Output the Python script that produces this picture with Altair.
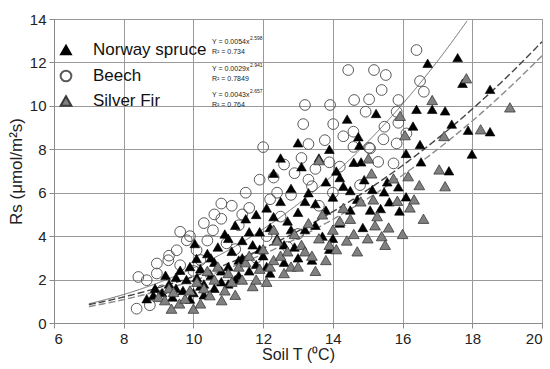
import altair as alt
import pandas as pd

# ---- measured soil respiration (Rs) against soil temperature ----
spruce_t = [8.66, 8.85, 8.9, 9.1, 9.2, 9.3, 9.4, 9.5, 9.5, 9.62, 9.7, 9.8, 9.9, 9.9, 10.0, 10.04,
            10.09, 10.1, 10.2, 10.2, 10.3, 10.3, 10.4, 10.5, 10.5, 10.6, 10.6, 10.7, 10.8, 10.8,
            10.9, 11.0, 11.0, 11.0, 11.1, 11.2, 11.2, 11.3, 11.3, 11.4, 11.4, 11.5, 11.6, 11.6,
            11.7, 11.8, 11.8, 11.9, 11.9, 12.0, 12.1, 12.1, 12.2, 12.2, 12.3, 12.3, 12.4, 12.5,
            12.5, 12.6, 12.6, 12.7, 12.8, 12.8, 12.9, 13.0, 13.0, 13.0, 13.1, 13.2, 13.2, 13.3,
            13.4, 13.5, 13.5, 13.6, 13.7, 13.8, 13.8, 13.9, 13.9, 14.0, 14.0, 14.1, 14.2, 14.2,
            14.3, 14.41, 14.5, 14.5, 14.6, 14.7, 14.73, 14.76, 14.81, 14.86, 14.9,
            15.07, 15.13, 15.24, 15.37, 15.47, 15.56, 15.62, 15.88, 15.91, 16.10, 16.10, 16.30,
            16.40, 16.50, 16.53, 16.72, 16.85, 17.22, 17.33, 17.41, 17.58, 17.72, 17.88, 17.99,
            18.51, 18.51]
spruce_rs = [1.12, 1.28, 1.6, 1.4, 2.2, 1.8, 1.2, 2.1, 1.6, 2.43, 1.5, 2.0, 1.1, 2.6, 1.4, 3.66,
             2.97, 2.1, 2.5, 1.7, 1.8, 1.3, 3.2, 2.2, 3.0, 2.8, 1.6, 3.5, 1.9, 2.4,
             4.1, 2.6, 1.8, 3.9, 3.3, 4.5, 2.0, 2.9, 2.2, 3.8, 3.0, 4.8, 2.4, 4.2,
             3.6, 5.0, 2.7, 4.2, 3.4, 3.1, 5.3, 2.6, 4.4, 2.3, 6.9, 4.9, 3.9, 5.6,
             7.6, 2.8, 3.6, 4.7, 6.2, 4.3, 3.5, 5.1, 8.3, 3.0, 7.2, 4.3, 5.6, 6.0,
             2.9, 5.5, 4.5, 7.6, 4.0, 6.5, 5.2, 3.4, 8.0, 5.8, 3.9, 7.0, 4.6, 6.7,
             6.3, 9.39, 5.2, 6.1, 7.4, 5.7, 8.58, 8.19, 7.42, 4.40, 6.6,
             5.20, 6.15, 9.65, 5.27, 6.04, 6.50, 5.58, 6.27, 5.16, 7.81, 5.81, 9.07,
             9.84, 8.22, 7.42, 11.96, 9.84, 9.77, 7.01, 9.16, 12.22, 11.04, 8.88, 7.78,
             10.76, 8.81]

beech_t = [8.37, 8.75, 8.42, 8.66, 8.95, 8.95, 9.1, 9.28, 9.3, 9.62, 9.52, 9.81, 9.62, 9.9,
           10.0, 10.09, 10.2, 10.3, 10.4, 10.56, 10.6, 10.8, 10.8, 10.95, 11.1, 11.2, 11.3, 11.4,
           11.5, 11.6, 11.8, 11.9, 12.0, 12.1, 12.2, 12.3, 12.4, 12.5, 12.6, 12.7, 12.8, 12.9,
           13.0, 13.1, 13.15, 13.2, 13.3, 13.3, 13.4, 13.5, 13.6, 13.77, 13.9, 13.92, 14.0,
           14.01, 14.2, 14.3, 14.44, 14.59, 14.59, 14.61, 14.78, 14.94, 15.04, 15.04, 15.07,
           15.18, 15.30, 15.40, 15.45, 15.48, 15.52, 15.74, 15.83, 15.83, 15.88, 15.88, 16.11,
           16.40, 16.50, 16.61]
beech_rs = [0.66, 0.82, 2.12, 1.97, 2.74, 2.28, 1.5, 2.89, 3.1, 2.66, 3.35, 3.81, 4.2, 4.0,
            2.4, 3.35, 2.9, 4.6, 3.8, 4.27, 5.0, 4.8, 5.5, 3.67, 5.4, 3.4, 4.5, 5.0,
            6.0, 5.3, 3.0, 6.6, 8.1, 4.0, 5.7, 6.7, 6.0, 4.9, 7.3, 3.5, 5.9, 6.9,
            4.1, 7.6, 9.16, 10.04, 8.24, 6.6, 6.3, 7.1, 5.4, 8.42, 7.4, 10.04, 6.0,
            9.16, 7.2, 8.6, 11.65, 8.81, 8.11, 10.27, 6.35, 9.73, 10.30, 8.07, 8.04,
            11.65, 7.42, 10.73, 8.46, 9.04, 11.42, 7.35, 9.73, 8.27, 10.27, 9.22, 8.73,
            12.57, 11.14, 10.65]

fir_t = [9.0, 9.18, 9.3, 9.37, 9.43, 9.6, 9.76, 9.9, 10.0, 10.1, 10.2, 10.3, 10.4, 10.47, 10.6,
         10.7, 10.81, 10.9, 11.0, 11.1, 11.2, 11.3, 11.4, 11.5, 11.6, 11.7, 11.8, 11.9, 12.0,
         12.1, 12.2, 12.3, 12.3, 12.4, 12.5, 12.6, 12.7, 12.8, 12.9, 13.0, 13.1, 13.2, 13.3,
         13.4, 13.5, 13.6, 13.6, 13.7, 13.8, 13.9, 14.0, 14.1, 14.2, 14.3, 14.4, 14.5, 14.6,
         14.7, 14.8, 15.0, 15.02, 15.11, 15.16, 15.21, 15.27, 15.4, 15.5, 15.6, 15.74, 15.85,
         15.93, 16.0, 16.07, 16.16, 16.21, 16.33, 16.48, 16.6, 16.85, 17.05, 17.19, 17.22,
         17.83, 18.24, 19.08]
fir_rs = [1.2, 1.05, 1.6, 0.66, 1.43, 0.9, 1.12, 1.5, 0.66, 1.9, 0.9, 1.6, 2.4, 1.28, 2.0,
          2.6, 1.05, 1.5, 2.3, 1.9, 1.3, 2.6, 2.0, 2.8, 3.1, 1.7, 2.0, 2.5, 3.4,
          1.9, 2.6, 2.9, 4.3, 3.8, 3.1, 2.3, 3.3, 2.6, 4.1, 2.6, 3.6, 3.3, 4.6,
          3.1, 2.4, 3.9, 7.5, 5.0, 2.9, 3.6, 4.3, 3.4, 4.7, 5.3, 3.8, 4.8, 4.1,
          3.3, 5.6, 3.9, 7.58, 6.89, 5.69, 4.50, 4.92, 4.0, 3.6, 4.4, 6.66, 5.63,
          9.54, 4.1, 8.65, 6.76, 5.32, 5.69, 6.35, 4.8, 10.27, 7.07, 8.61, 6.30,
          11.27, 8.92, 9.93]

# ---- power-law fits  Rs = a * T^b ----
species = ["Norway spruce", "Beech", "Silver Fir"]
fit_a = [0.0054, 0.0029, 0.0043]
fit_b = [2.598, 2.941, 2.657]
fit_r2 = ["0.734", "0.7849", "0.764"]

FONT = "Liberation Sans"

xscale = alt.Scale(domain=[6, 20], nice=False)
yscale = alt.Scale(domain=[0, 14], nice=False)

x_enc = alt.X("T:Q", scale=xscale,
              axis=alt.Axis(values=list(range(6, 21, 2)), title="Soil T (⁰C)",
                            titleFontSize=16, titlePadding=0, titleFontWeight="normal"))
y_enc = alt.Y("Rs:Q", scale=yscale,
              axis=alt.Axis(values=list(range(0, 15, 2)), title="Rs (μmol/m²s)",
                            titleFontSize=17, titlePadding=4, titleFontWeight="normal"))


def frame(t, rs):
    return pd.DataFrame({"T": t, "Rs": rs})


beech_pts = alt.Chart(frame(beech_t, beech_rs)).mark_point(
    shape="circle", size=115, filled=False, stroke="#5a5a5a", strokeWidth=1, opacity=1
).encode(x=x_enc, y=y_enc)

spruce_pts = alt.Chart(frame(spruce_t, spruce_rs)).mark_point(
    shape="triangle-up", size=95, filled=True, fill="#000000", stroke="#000000",
    strokeWidth=0.6, opacity=1
).encode(x=x_enc, y=y_enc)

fir_pts = alt.Chart(frame(fir_t, fir_rs)).mark_point(
    shape="triangle-up", size=115, filled=True, fill="#808080", stroke="#3a3a3a",
    strokeWidth=0.8, opacity=1
).encode(x=x_enc, y=y_enc)


def fit_curve(i, color, dash, width):
    a, b = fit_a[i], fit_b[i]
    return alt.Chart(alt.sequence(7, 20.001, 0.05, as_="T")).transform_calculate(
        Rs=f"{a} * pow(datum.T, {b})"
    ).transform_filter("datum.Rs <= 14").mark_line(
        color=color, strokeWidth=width, strokeDash=dash, clip=True
    ).encode(x=x_enc, y=y_enc)


beech_fit = fit_curve(1, "#6a6a6a", [1, 0], 1)
spruce_fit = fit_curve(0, "#444444", [7, 3], 1.4)
fir_fit = fit_curve(2, "#8c8c8c", [7, 3], 1.4)

# ---- legend inside the plot ----
legend_df = pd.DataFrame({
    "name": species,
    "px": [12, 12, 12],
    "py": [31, 57, 82],
})
sym_x = alt.X("px:Q", scale=None)
sym_y = alt.Y("py:Q", scale=None)

leg_spruce = alt.Chart(legend_df.iloc[[0]]).mark_point(
    shape="triangle-up", size=95, filled=True, fill="#000000", stroke="#000000", opacity=1
).encode(x=sym_x, y=sym_y)
leg_beech = alt.Chart(legend_df.iloc[[1]]).mark_point(
    shape="circle", size=115, filled=False, stroke="#5a5a5a", opacity=1
).encode(x=sym_x, y=sym_y)
leg_fir = alt.Chart(legend_df.iloc[[2]]).mark_point(
    shape="triangle-up", size=115, filled=True, fill="#808080", stroke="#3a3a3a", opacity=1
).encode(x=sym_x, y=sym_y)

leg_text = alt.Chart(legend_df).transform_calculate(tx="datum.px + 27").mark_text(
    font=FONT, fontSize=17, align="left", baseline="middle", color="#111111"
).encode(x=alt.X("tx:Q", scale=None), y=sym_y, text="name:N")

# ---- fitted equations beside the legend ----
eq_df = pd.DataFrame({
    "main": [f"Y = {a}x" for a in fit_a],
    "sup": [f"{b}" for b in fit_b],
    "r2": [f"R² = {r}" for r in fit_r2],
    "py": [23, 50, 76],
})
eq_main = alt.Chart(eq_df).mark_text(
    font=FONT, fontSize=7, align="left", baseline="middle", color="#222222"
).encode(x=alt.value(158), y=alt.Y("py:Q", scale=None), text="main:N")
eq_sup = alt.Chart(eq_df).transform_calculate(sy="datum.py - 4").mark_text(
    font=FONT, fontSize=5, align="left", baseline="middle", color="#222222"
).encode(x=alt.value(196), y=alt.Y("sy:Q", scale=None), text="sup:N")
eq_r2 = alt.Chart(eq_df).transform_calculate(ry="datum.py + 10").mark_text(
    font=FONT, fontSize=7, align="left", baseline="middle", color="#222222"
).encode(x=alt.value(158), y=alt.Y("ry:Q", scale=None), text="r2:N")

chart = alt.layer(
    beech_fit, spruce_fit, fir_fit,
    beech_pts, spruce_pts, fir_pts,
    leg_spruce, leg_beech, leg_fir, leg_text,
    eq_main, eq_sup, eq_r2,
).properties(
    width=488, height=304,
    padding={"left": 54, "top": 19, "right": 8, "bottom": 46},
    autosize="none",
    background="white",
).configure_view(
    stroke="#9a9a9a", strokeWidth=1
).configure_axis(
    labelFont=FONT, titleFont=FONT, labelFontSize=15, labelColor="#222222",
    titleColor="#222222", grid=True, gridColor="#9a9a9a", gridWidth=1,
    domainColor="#8a8a8a", tickColor="#8a8a8a", tickSize=5, labelPadding=3,
)

chart.save("out.html", embed_options={"renderer": "svg", "actions": False})
